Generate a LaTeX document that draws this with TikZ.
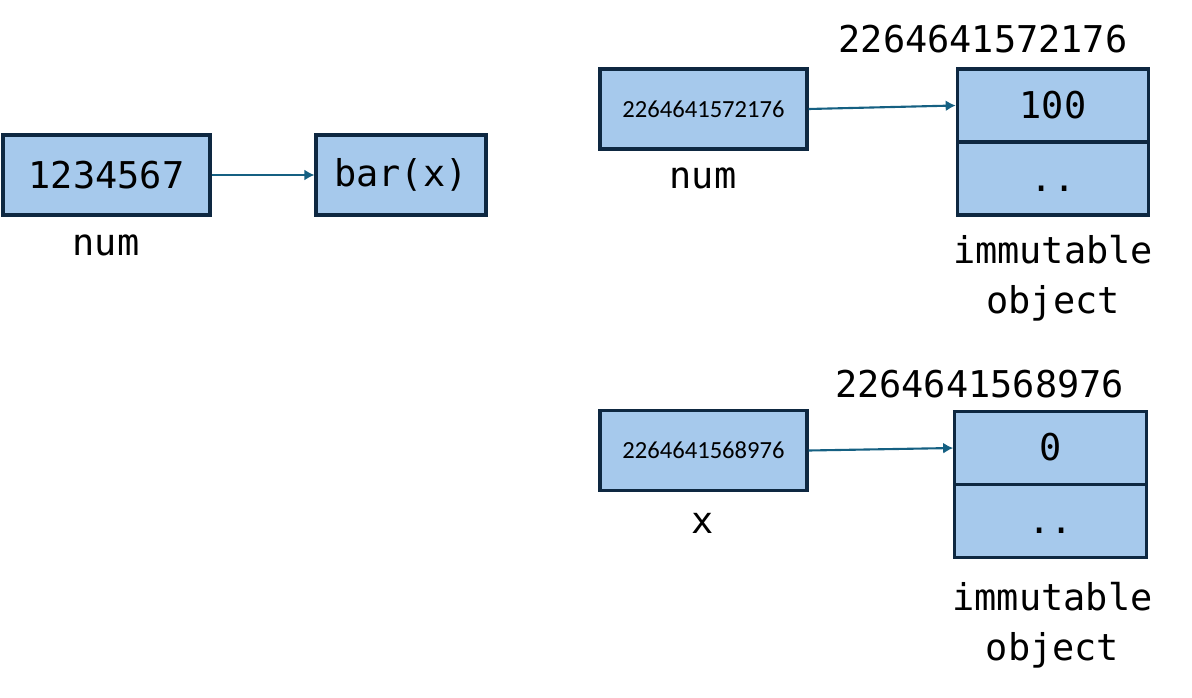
\documentclass[tikz,border=0pt]{standalone}
\usepackage{fontspec}
\setmonofont{DejaVu Sans Mono}
\newfontfamily\addrfont{Carlito}
\usetikzlibrary{arrows.meta}
\definecolor{cellfill}{RGB}{166,201,236}
\definecolor{celledge}{RGB}{14,40,65}
\definecolor{ptrline}{RGB}{21,96,130}

\begin{document}
\begin{tikzpicture}[>=Latex,
  box/.style={draw=celledge,line width=1.8pt,fill=cellfill,inner sep=0pt,font=\fontsize{21}{29}\selectfont\ttfamily},
  addrbox/.style={box,minimum width=4.14cm,minimum height=1.6cm,font=\fontsize{14}{16}\selectfont\addrfont},
  cell/.style={box,minimum width=3.83cm,minimum height=1.46cm,text height=18.9pt,text depth=4.2pt},
  lbl/.style={inner sep=0pt,font=\fontsize{21}{28.5}\selectfont\ttfamily},
  ptr/.style={draw=ptrline,line width=1.2pt,-{Latex[length=2mm,width=2.2mm]}}]
\useasboundingbox (0,0) rectangle (23.84,-13.94);
\node[box,minimum width=4.14cm,minimum height=1.6cm] (n1) at (2.13,-3.50) {1234567};
\node[box,minimum width=3.4cm,minimum height=1.6cm] (bar) at (8.02,-3.50) {bar(x)};
\draw[ptr] (n1.east)--(bar.west);
\node[lbl,anchor=base] (n1lbl) at (2.12,-5.10) {num};

\node[addrbox] (a1) at (14.07,-2.18) {2264641572176};
\node[lbl,anchor=base] (a1lbl) at (14.06,-3.76) {num};
\node[cell] (v1) at (21.06,-2.11) {100};
\node[cell] (v1b) at (21.06,-3.57) {..};
\node[lbl,anchor=base] (v1id) at (19.66,-1.04) {2264641572176};
\node[lbl,anchor=north,align=center] (v1lbl) at (21.06,-4.70) {immutable\\object};
\draw[ptr] (a1.east)--(v1.west);

\node[addrbox] (a2) at (14.07,-9.01) {2264641568976};
\node[lbl,anchor=base] (a2lbl) at (14.06,-10.66) {x};
\node[cell] (v2) at (21.01,-8.96) {0};
\node[cell] (v2b) at (21.01,-10.42) {..};
\node[lbl,anchor=base] (v2id) at (19.59,-7.94) {2264641568976};
\node[lbl,anchor=north,align=center] (v2lbl) at (21.05,-11.64) {immutable\\object};
\draw[ptr] (a2.east)--(v2.west);
\end{tikzpicture}
\end{document}
